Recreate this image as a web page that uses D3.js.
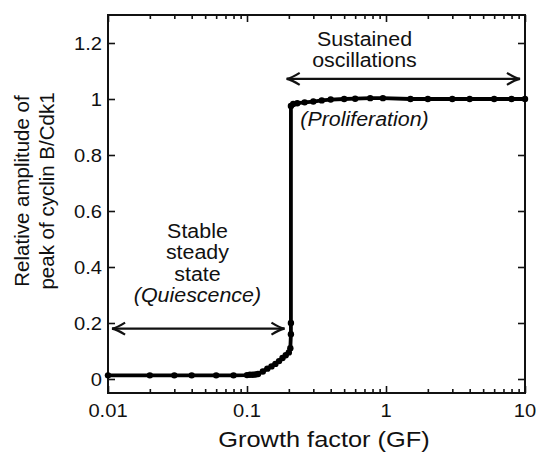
<!DOCTYPE html>
<html><head><meta charset="utf-8">
<script src="https://cdn.jsdelivr.net/npm/d3@7"></script>
<style>body{margin:0;background:#fff}svg{display:block}text{font-family:"Liberation Sans",Arial,Helvetica,sans-serif;fill:#111}</style>
</head><body><svg id="c" width="536" height="459"></svg>
<script>
// ---- data ----
const gf = [0.01,0.02,0.03,0.04,0.06,0.08,0.1,0.105,0.11,0.115,0.12,0.13,0.14,0.15,0.16,0.17,0.18,0.19,0.2,0.205,0.207,0.207,0.207,
            0.215,0.23,0.26,0.3,0.345,0.4,0.5,0.6,0.77,0.95,1.5,2,3,4,6,8,10];
const amp = [0.013,0.013,0.013,0.013,0.013,0.013,0.014,0.015,0.015,0.016,0.018,0.027,0.037,0.045,0.054,0.064,0.075,0.085,0.095,0.11,0.16,0.2,0.975,
            0.982,0.985,0.988,0.991,0.995,0.998,1.0,1.001,1.003,1.003,1.0,1.0,1.0,1.0,1.0,1.0,1.0];
const yTicks = [0,0.2,0.4,0.6,0.8,1,1.2];
const yTickLabels = ["0","0.2","0.4","0.6","0.8","1","1.2"];
const xTicks = [0.01,0.1,1,10];
const xTickLabels = ["0.01","0.1","1","10"];
const xMinor = [2,3,4,5,6,7,8,9].flatMap(m => [0.01,0.1,1].map(d => m*d));
const xTitle = "Growth factor (GF)";
const yTitle = ["Relative amplitude of","peak of cyclin B/Cdk1"];
// annotation arrows: [x0, x1, y]
const arrows = [[0.0107,0.186,0.18],[0.193,9.2,1.072]];
// annotation texts: [x, y, text, italic]
const notes = [
  [0.7,1.19,"Sustained",false],[0.7,1.113,"oscillations",false],[0.7,0.905,"(Proliferation)",true],
  [0.044,0.505,"Stable",false],[0.044,0.428,"steady",false],[0.044,0.351,"state",false],[0.044,0.274,"(Quiescence)",true]
];

// ---- chart ----
const svg = d3.select("#c");
const L=108, R=525, T=15, B=393;
const x = d3.scaleLog().domain([0.01,10]).range([L,R]);
const y = d3.scaleLinear().domain([-0.05,1.3]).range([B,T]);

function txt(g, px, py, s, size, sx, anchor, italic){
  return g.append("text").attr("transform",`translate(${px},${py}) scale(${sx},1)`)
    .attr("font-size",size).attr("text-anchor",anchor||"middle")
    .attr("font-style",italic?"italic":"normal").text(s);
}

// axes (ticks inward)
svg.append("g").attr("transform",`translate(${L},0)`)
  .call(d3.axisLeft(y).tickValues(yTicks).tickSize(-7).tickFormat(""));
svg.append("g").attr("transform",`translate(${R},0)`)
  .call(d3.axisRight(y).tickValues(yTicks).tickSize(-7).tickFormat(""));
svg.append("g").attr("transform",`translate(0,${B})`)
  .call(d3.axisBottom(x).tickValues(xTicks).tickSize(-7).tickFormat(""));
svg.append("g").attr("transform",`translate(0,${B})`)
  .call(d3.axisBottom(x).tickValues(xMinor).tickSize(-4).tickFormat(""));
svg.append("g").attr("transform",`translate(0,${T})`)
  .call(d3.axisTop(x).tickValues(xTicks).tickSize(-7).tickFormat(""));
svg.append("g").attr("transform",`translate(0,${T})`)
  .call(d3.axisTop(x).tickValues(xMinor).tickSize(-4).tickFormat(""));
svg.selectAll(".domain").remove();
svg.selectAll(".tick line").attr("stroke","#111").attr("stroke-width",1.6);

// frame
svg.append("rect").attr("x",L).attr("y",T).attr("width",R-L).attr("height",B-T)
  .attr("fill","none").attr("stroke","#111").attr("stroke-width",2);

// tick labels
const lab = svg.append("g");
yTicks.forEach((v,i)=> txt(lab, L-6, y(v)+6.5, yTickLabels[i], 18, 1.12, "end"));
xTicks.forEach((v,i)=> txt(lab, x(v), 417, xTickLabels[i], 18, 1.12, "middle"));

// titles
txt(svg, 324, 447, xTitle, 21.5, 1.18, "middle");
yTitle.forEach((s,i)=>{
  svg.append("text").attr("transform",`translate(${28.5+i*25},191) rotate(-90)`)
    .attr("font-size",20.5).attr("text-anchor","middle").text(s);
});

// curve
const line = d3.line().x((d,i)=>x(gf[i])).y((d,i)=>y(amp[i]));
svg.append("path").datum(gf).attr("d",line).attr("fill","none")
  .attr("stroke","#000").attr("stroke-width",3.8).attr("stroke-linejoin","round");
svg.append("g").selectAll("circle").data(gf).join("circle")
  .attr("cx",(d,i)=>x(gf[i])).attr("cy",(d,i)=>y(amp[i])).attr("r",3.2).attr("fill","#000");

// arrows
const ag = svg.append("g").attr("stroke","#111").attr("fill","none").attr("stroke-width",2.2);
arrows.forEach(a=>{
  const x0=x(a[0]), x1=x(a[1]), yy=y(a[2]);
  ag.append("line").attr("x1",x0).attr("x2",x1).attr("y1",yy).attr("y2",yy);
  ag.append("path").attr("d",`M${x0+13},${yy-6} Q${x0+5},${yy-1} ${x0},${yy} Q${x0+5},${yy+1} ${x0+13},${yy+6}`);
  ag.append("path").attr("d",`M${x1-13},${yy-6} Q${x1-5},${yy-1} ${x1},${yy} Q${x1-5},${yy+1} ${x1-13},${yy+6}`);
});

// notes
notes.forEach(n=> txt(svg, x(n[0]), y(n[1]), n[2], 20, 1.07, "middle", n[3]));
</script></body></html>
